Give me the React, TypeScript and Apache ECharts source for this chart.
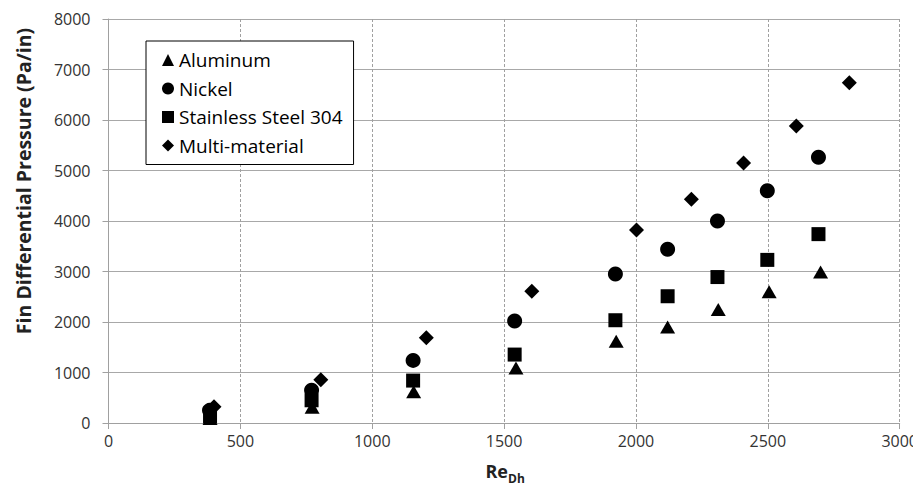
import React, { useEffect, useRef } from "react";
import * as echarts from "echarts";

const seriesNames = ["Aluminum", "Nickel", "Stainless Steel 304", "Multi-material"];
const aluminum = [[385, 90], [772, 310], [1157, 620], [1545, 1090], [1925, 1620], [2120, 1900], [2312, 2250], [2505, 2600], [2700, 2990]];
const nickel = [[383, 250], [770, 650], [1155, 1240], [1540, 2020], [1922, 2950], [2120, 3440], [2309, 4000], [2498, 4600], [2692, 5260]];
const stainless = [[385, 130], [770, 450], [1155, 840], [1540, 1355], [1922, 2035], [2120, 2510], [2309, 2890], [2498, 3230], [2692, 3740]];
const multi = [[400, 320], [805, 855], [1205, 1690], [1605, 2610], [2002, 3820], [2210, 4430], [2408, 5150], [2608, 5880], [2809, 6740]];
const symbols = ["triangle", "circle", "rect", "diamond"];
const symbolSizes = [[15, 13], 15, 14, 15];
const xTitle = "Re";
const xTitleSub = "Dh";
const yTitle = "Fin Differential Pressure (Pa/in)";

export default function App() {
  const ref = useRef<HTMLDivElement>(null);
  useEffect(() => {
    if (!ref.current) return;
    const chart = echarts.init(ref.current, undefined, { renderer: "svg" });
    const font = "'Open Sans', sans-serif";
    const datas = [aluminum, nickel, stainless, multi];
    chart.setOption({
      animation: false,
      backgroundColor: "#ffffff",
      textStyle: { fontFamily: font },
      grid: { left: 108.5, right: 18, top: 19, bottom: 68, containLabel: false },
      legend: {
        orient: "vertical",
        left: 146,
        top: 41,
        padding: [9, 11, 9, 16],
        backgroundColor: "#ffffff",
        borderColor: "#000000",
        borderWidth: 1,
        borderRadius: 0,
        itemWidth: 12,
        itemHeight: 12,
        itemGap: 8.5,
        itemStyle: { color: "#000" },
        textStyle: { fontSize: 19, color: "#000", fontFamily: font, lineHeight: 20 },
        data: seriesNames.map((n, i) => ({ name: n, icon: symbols[i] })),
      },
      xAxis: {
        type: "value",
        min: 0,
        max: 3000,
        interval: 500,
        axisLine: { show: true, lineStyle: { color: "#a0a0a0", width: 1 } },
        axisTick: { show: true, length: 6, lineStyle: { color: "#a0a0a0" } },
        axisLabel: { fontSize: 16, color: "#333", margin: 10, fontFamily: font, formatter: (v: number) => String(v) },
        splitLine: { show: true, lineStyle: { color: "#a0a0a0", type: [3, 2], width: 1 } },
      },
      yAxis: {
        type: "value",
        min: 0,
        max: 8000,
        interval: 1000,
        axisLine: { show: true, lineStyle: { color: "#a0a0a0", width: 1 } },
        axisTick: { show: true, length: 6, lineStyle: { color: "#a0a0a0" } },
        axisLabel: { fontSize: 16, color: "#333", margin: 18, fontFamily: font, formatter: (v: number) => String(v) },
        splitLine: { show: true, lineStyle: { color: "#a8a8a8", width: 1.2 } },
      },
      graphic: [
        {
          type: "text",
          x: 23,
          y: 181,
          rotation: Math.PI / 2,
          style: {
            text: yTitle,
            fontSize: 19.5,
            fontWeight: "bold",
            fontFamily: font,
            fill: "#222",
            textAlign: "center",
            textVerticalAlign: "middle",
          },
        },
        {
          type: "text",
          x: 508,
          y: 471,
          style: {
            text: xTitle,
            fontSize: 18,
            fontWeight: "bold",
            fontFamily: font,
            fill: "#222",
            textAlign: "right",
            textVerticalAlign: "middle",
          },
        },
        {
          type: "text",
          x: 508,
          y: 478,
          style: {
            text: xTitleSub,
            fontSize: 12,
            fontWeight: "bold",
            fontFamily: font,
            fill: "#222",
            textAlign: "left",
            textVerticalAlign: "middle",
          },
        },
      ],
      series: seriesNames.map((n, i) => ({
        name: n,
        type: "scatter",
        symbol: symbols[i],
        symbolSize: symbolSizes[i],
        itemStyle: { color: "#000", opacity: 1 },
        data: datas[i],
        z: 3,
      })),
    });
    return () => chart.dispose();
  }, []);
  return <div ref={ref} style={{ width: 921, height: 491, marginLeft: -8, marginTop: -8 }} />;
}
